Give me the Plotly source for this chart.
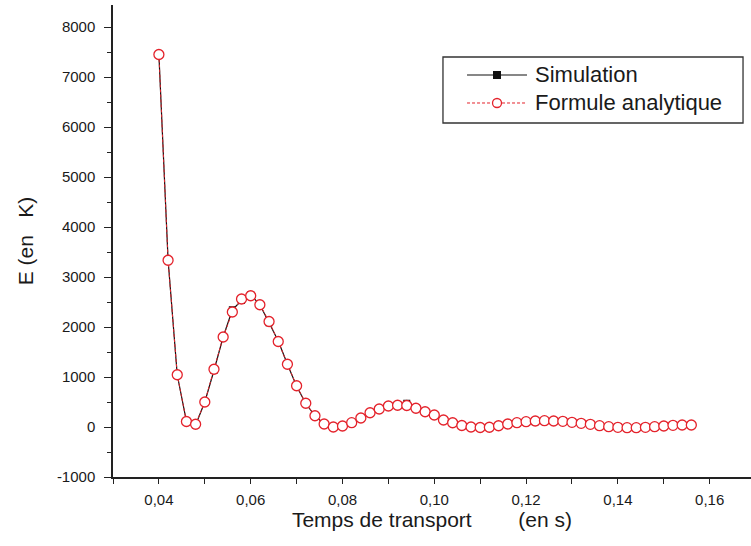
import plotly.graph_objects as go

# Transport time (s)
temps = [0.040, 0.042, 0.044, 0.046, 0.048, 0.050, 0.052, 0.054, 0.056, 0.058,
         0.060, 0.062, 0.064, 0.066, 0.068, 0.070, 0.072, 0.074, 0.076, 0.078,
         0.080, 0.082, 0.084, 0.086, 0.088, 0.090, 0.092, 0.094, 0.096, 0.098,
         0.100, 0.102, 0.104, 0.106, 0.108, 0.110, 0.112, 0.114, 0.116, 0.118,
         0.120, 0.122, 0.124, 0.126, 0.128, 0.130, 0.132, 0.134, 0.136, 0.138,
         0.140, 0.142, 0.144, 0.146, 0.148, 0.150, 0.152, 0.154, 0.156]

# Analytic formula
e_analytique = [7450, 3335, 1045, 110, 55, 500, 1155, 1800, 2300, 2560,
                2625, 2445, 2110, 1710, 1255, 825, 475, 225, 60, 0,
                20, 86, 180, 285, 360, 420, 435, 430, 375, 305,
                240, 140, 85, 30, 0, -10, -5, 25, 60, 87,
                107, 120, 127, 120, 113, 93, 73, 53, 27, 7,
                -7, -13, -13, -7, 7, 20, 33, 40, 40]

# Simulation
e_simulation = [7450, 3340, 1040, 115, 40, 500, 1130, 1800, 2345, 2530,
                2645, 2445, 2085, 1720, 1255, 815, 470, 225, 60, 0,
                20, 86, 180, 285, 360, 420, 440, 475, 375, 305,
                240, 140, 85, 30, 0, -10, -5, 25, 60, 87,
                107, 105, 127, 120, 113, 93, 73, 53, 27, 7,
                -7, -13, -13, -7, 7, 20, 33, 40, 40]

x_tickvals = [0.03, 0.04, 0.05, 0.06, 0.07, 0.08, 0.09, 0.10, 0.11, 0.12,
              0.13, 0.14, 0.15, 0.16]
x_ticktext = ["", "0,04", "", "0,06", "", "0,08", "", "0,10", "", "0,12",
              "", "0,14", "", "0,16"]
y_tickvals = [-1000, 0, 1000, 2000, 3000, 4000, 5000, 6000, 7000, 8000]
y_ticktext = ["-1000", "0", "1000", "2000", "3000", "4000", "5000", "6000",
              "7000", "8000"]

noms = ["Simulation", "Formule analytique"]

FONT = "Liberation Sans, Arial, sans-serif"
TXT = "#1a1a1a"
AXC = "#222222"
RED = "#e4222b"
NB = "\u00a0"

fig = go.Figure()
fig.add_trace(go.Scatter(
    x=temps, y=e_simulation, mode="lines+markers", name=noms[0],
    line=dict(color="#111111", width=1.2),
    marker=dict(symbol="square", size=7, color="#111111"),
    showlegend=False))
fig.add_trace(go.Scatter(
    x=temps, y=e_analytique, mode="lines+markers", name=noms[1],
    line=dict(color=RED, width=1, dash="3px,2px"),
    marker=dict(symbol="circle", size=10, color="white",
                line=dict(color=RED, width=1.3)),
    showlegend=False))

# Hand-drawn legend box (paper coordinates)
L, T = 0.5172, 0.8898
R, B = 0.9875, 0.75
rows = [0.8517, 0.7924]
lx0, lx1, lxm, tx = 0.5549, 0.6489, 0.6019, 0.6583
shapes = [
    dict(type="rect", xref="paper", yref="paper", x0=L, x1=R, y0=B, y1=T,
         line=dict(color="#333333", width=1.3), fillcolor="white", layer="above"),
    dict(type="line", xref="paper", yref="paper", x0=lx0, x1=lx1,
         y0=rows[0], y1=rows[0], line=dict(color="#111111", width=1.2), layer="above"),
    dict(type="rect", xref="paper", yref="paper", xsizemode="pixel", ysizemode="pixel",
         xanchor=lxm, yanchor=rows[0], x0=-4, x1=4, y0=-4, y1=4,
         line=dict(width=0), fillcolor="#111111", layer="above"),
    dict(type="line", xref="paper", yref="paper", x0=lx0, x1=lx1,
         y0=rows[1], y1=rows[1], line=dict(color=RED, width=1, dash="3px,2px"),
         layer="above"),
    dict(type="circle", xref="paper", yref="paper", xsizemode="pixel", ysizemode="pixel",
         xanchor=lxm, yanchor=rows[1], x0=-4.5, x1=4.5, y0=-4.5, y1=4.5,
         line=dict(color=RED, width=1.3), fillcolor="white", layer="above"),
]
annotations = [
    dict(xref="paper", yref="paper", x=tx, y=rows[i], text=noms[i], showarrow=False,
         xanchor="left", yanchor="middle", font=dict(family=FONT, size=22, color=TXT))
    for i in range(2)
]

fig.update_layout(
    width=751, height=546,
    margin=dict(l=113, r=0, t=5, b=69),
    paper_bgcolor="white", plot_bgcolor="white",
    font=dict(family=FONT, color=TXT),
    shapes=shapes, annotations=annotations,
    xaxis=dict(
        range=[0.03, 0.169], showgrid=False, zeroline=False,
        showline=True, linecolor=AXC, linewidth=1.5,
        ticks="outside", ticklen=5, tickwidth=1.3, tickcolor=AXC,
        tickvals=x_tickvals, ticktext=x_ticktext,
        tickfont=dict(size=15, color=TXT), ticklabelstandoff=3,
        title=dict(text="Temps de transport" + NB * 8 + "(en s)",
                   font=dict(size=21, color=TXT), standoff=6),
    ),
    yaxis=dict(
        range=[-1000, 8440], showgrid=False, zeroline=False,
        showline=True, linecolor=AXC, linewidth=1.5,
        ticks="outside", ticklen=7, tickwidth=1.3, tickcolor=AXC,
        tickvals=y_tickvals, ticktext=y_ticktext,
        minor=dict(dtick=500, tick0=0, ticks="outside", ticklen=4,
                   tickwidth=1.3, tickcolor=AXC, showgrid=False),
        tickfont=dict(size=15, color=TXT), ticklabelstandoff=6,
        title=dict(text="E (en" + NB * 3 + "K)", font=dict(size=21, color=TXT),
                   standoff=18),
    ),
)

fig.write_html("out.html")
